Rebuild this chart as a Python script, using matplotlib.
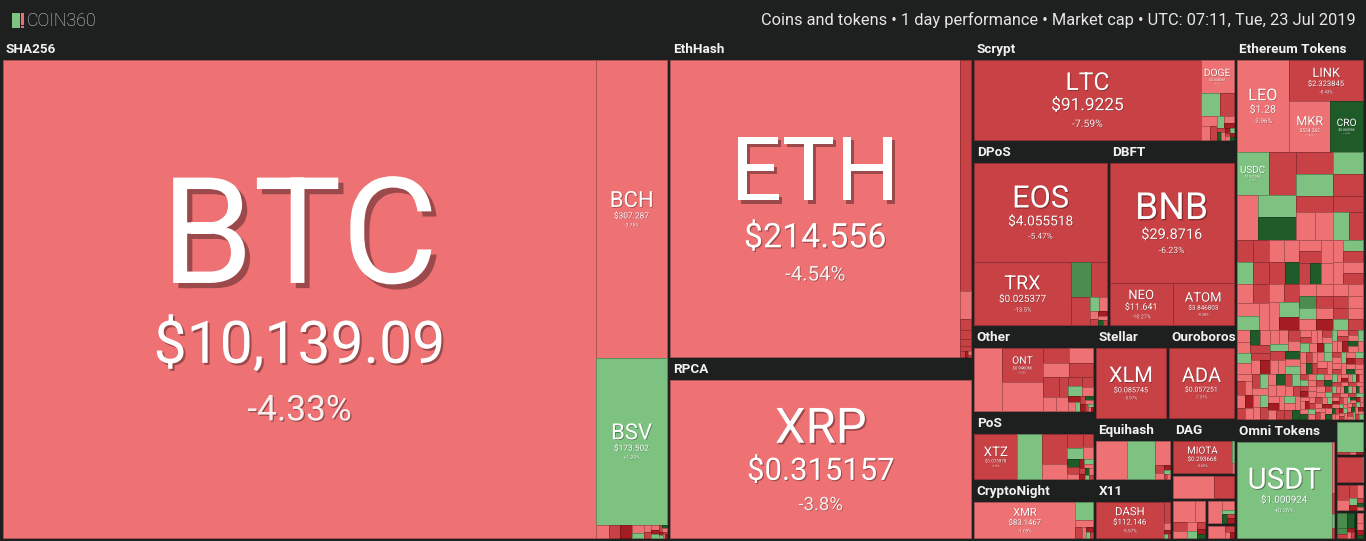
import numpy as np
import matplotlib.pyplot as plt
from matplotlib.patches import Rectangle
from matplotlib.textpath import TextPath
from matplotlib.font_manager import FontProperties
from matplotlib.colors import to_rgb
import matplotlib.patheffects as pe

# Named coins: size is the relative tile weight
coin_symbols = ['BTC', 'BCH', 'BSV', 'ETH', 'XRP', 'LTC', 'DOGE', 'EOS', 'TRX', 'BNB', 'NEO', 'ATOM',
                'ONT', 'XLM', 'ADA', 'XTZ', 'XMR', 'DASH', 'MIOTA', 'LEO', 'LINK', 'MKR', 'CRO', 'USDC', 'USDT']
coin_groups = ['SHA256', 'SHA256', 'SHA256', 'EthHash', 'RPCA', 'Scrypt', 'Scrypt', 'DPoS', 'DPoS', 'DBFT',
               'DBFT', 'DBFT', 'Other', 'Stellar', 'Ouroboros', 'PoS', 'CryptoNight', 'X11', 'DAG',
               'Ethereum Tokens', 'Ethereum Tokens', 'Ethereum Tokens', 'Ethereum Tokens', 'Ethereum Tokens',
               'Omni Tokens']
coin_sizes = [297.4, 22.3, 12.5, 93.4, 54.8, 23.4, 1.42, 15.3, 7.1, 17.4, 3.1, 3.0,
              1.88, 6.75, 6.24, 3.0, 6.05, 4.18, 3.4, 5.21, 3.31, 2.25, 1.80, 1.50, 11.6]
coin_prices = ['$10,139.09', '$307.287', '$173.502', '$214.556', '$0.315157', '$91.9225', '$0.003068',
               '$4.055518', '$0.025377', '$29.8716', '$11.641', '$3.846803', '$0.946066', '$0.085745',
               '$0.057251', '$1.073978', '$83.1467', '$112.146', '$0.293668', '$1.28', '$2.323845',
               '$554.262', '$0.060356', '$1.002398', '$1.000924']
coin_changes = [-4.33, -3.76, 1.29, -4.54, -3.8, -7.59, -3.31, -5.47, -13.5, -6.23, -10.27, -9.28,
                -6.53, -5.97, -7.31, -6.56, -1.69, -5.57, -5.65, -3.96, -8.43, -1.35, 12.4, 0.18, 0.26]

# Unlabelled small coins per group (sizes) and their move class
# r: small loss, R: loss, D: heavy loss, g: small gain, G: gain, K: strong gain
sha256_rest = [0.18, 0.16, 0.16, 0.10, 0.066, 0.057, 0.05, 0.04, 0.035, 0.03, 0.025, 0.02, 0.02, 0.015, 0.012, 0.01, 0.01, 0.008]
sha256_moves = 'rRDrgrRrDgRKrDgRrD'
ethhash_rest = [2.8, 0.33, 0.14, 0.11, 0.08, 0.06, 0.03, 0.02, 0.015, 0.01]
ethhash_moves = 'RrRRRRRDrR'
scrypt_rest = [0.58, 0.42, 0.2, 0.17, 0.12, 0.1, 0.08, 0.06, 0.05, 0.04, 0.04, 0.03, 0.03, 0.02, 0.02, 0.02, 0.01]
scrypt_moves = 'gRrrRgrDRKrDgRrDK'
dpos_rest = [0.84, 0.66, 0.62, 0.15, 0.12, 0.08, 0.06, 0.05, 0.04, 0.03, 0.02]
dpos_moves = 'GRRgrrRDrKR'
other_rest = [2.45, 1.65, 0.55, 0.52, 0.48, 0.48, 0.45, 0.26, 0.26, 0.22, 0.18, 0.18, 0.16, 0.13,
              0.11, 0.09, 0.07, 0.06, 0.05, 0.04, 0.04, 0.03, 0.02, 0.02, 0.01]
other_moves = 'rrRrrRRRrrRgRrDrgRKrDRgrD'
pos_rest = [1.75, 1.15, 0.6, 0.33, 0.26, 0.21, 0.18, 0.15, 0.12, 0.1, 0.08, 0.07, 0.06, 0.05, 0.05, 0.04, 0.04, 0.03, 0.03]
pos_moves = 'gRrRgRrKRrDgrRDKrgR'
cryptonight_rest = [0.53, 0.2, 0.12, 0.08, 0.05, 0.04, 0.03]
cryptonight_moves = 'grRrDgR'
equihash_rest = [1.93, 1.8, 0.58, 0.12, 0.08, 0.05, 0.04, 0.03, 0.02]
equihash_moves = 'rgrRrDgRr'
x11_rest = [0.22, 0.08, 0.04, 0.03, 0.01]
x11_moves = 'RrDgR'
dag_rest = [0.07, 0.03]
dag_moves = 'gr'
minor1_rest, minor1_moves = [1.08, 0.53], 'rR'
minor2_rest, minor2_moves = [0.55, 0.25, 0.15, 0.12, 0.1, 0.08, 0.06, 0.05, 0.04], 'rrRrrgRDK'
minor3_rest, minor3_moves = [0.4, 0.12, 0.06, 0.05, 0.04, 0.04], 'rrgKRD'
minor4_rest, minor4_moves = [0.28, 0.08, 0.04, 0.03], 'rRrD'

eth_mid = [1.30, 1.04, 0.92, 0.91, 0.89, 0.89, 0.72, 0.72, 0.63, 0.57, 0.57, 0.52, 0.47, 0.41]
eth_mid_moves = 'RrgKRgg' + 'RRrrRgR'
eth_small_sizes = [0.40, 0.38, 0.36, 0.34, 0.32, 0.30, 0.28, 0.26, 0.24, 0.22, 0.20, 0.18,
                   0.16, 0.14, 0.12, 0.10, 0.08, 0.07, 0.06, 0.05, 0.04, 0.03, 0.02]
eth_small_counts = [2, 2, 3, 3, 3, 4, 4, 4, 5, 5, 6, 6, 7, 8, 12, 14, 16, 18, 18, 20, 24, 26, 30]
eth_small_moves = ('RRgRrrRKrRrgrrRrgDrRrRKrrgRrrRrGrRgrrDrR'
                   'rrRgrRrrKrRgrRrDrrgRrRrrKrgrRrRgrrDRrrgr'
                   'RrKrrRgrRrDrrRgrrRKrRrgrrRrDgrRrrKRrgrRr'
                   'grRrrDRrgKrrRrgrRrrDgRrKrrRgrrRDrrgRrKrr'
                   'RgrrDrRrKgrRrrgDrRrrKgrRrDrgrRrKrrgRDrrg'
                   'rRKrgrDrRrgrKRrrDgrRrgKrrRDrgrrKRrgrDrRg')
omni_rest, omni_moves = [0.15, 0.06, 0.04, 0.03], 'rRgR'
minor5_rest, minor5_moves = [0.94, 0.04, 0.02, 0.02], 'gRrD'
minor6_rest, minor6_moves = [0.79, 0.02], 'Rr'
minor7_rest, minor7_moves = [0.22, 0.16, 0.12, 0.1, 0.07, 0.05, 0.04, 0.03, 0.02], 'RrRrgDRKr'
minor8_rest, minor8_moves = [0.2, 0.12, 0.08, 0.06, 0.04, 0.03, 0.02], 'GKGRDrR'
minor9_rest, minor9_moves = [0.1, 0.08, 0.05, 0.03], 'rrDK'

move_pct = {'r': -2.5, 'R': -8.0, 'D': -20.0, 'g': 2.0, 'G': 7.0, 'K': 12.0}

coin_group_names = ['SHA256', 'EthHash', 'RPCA', 'Scrypt', 'DPoS', 'DBFT', 'Other', 'PoS', 'CryptoNight',
                    'Stellar', 'Ouroboros', 'Equihash', 'X11', 'DAG', 'minor-1', 'minor-2', 'minor-3', 'minor-4']
token_group_names = ['Ethereum Tokens', 'Omni Tokens', 'minor-5', 'minor-6', 'minor-7', 'minor-8', 'minor-9']

eth_small = [s for s, n in zip(eth_small_sizes, eth_small_counts) for _ in range(n)]
rest = {
    'SHA256': (sha256_rest, sha256_moves), 'EthHash': (ethhash_rest, ethhash_moves),
    'Scrypt': (scrypt_rest, scrypt_moves), 'DPoS': (dpos_rest, dpos_moves), 'Other': (other_rest, other_moves),
    'PoS': (pos_rest, pos_moves), 'CryptoNight': (cryptonight_rest, cryptonight_moves),
    'Equihash': (equihash_rest, equihash_moves), 'X11': (x11_rest, x11_moves), 'DAG': (dag_rest, dag_moves),
    'minor-1': (minor1_rest, minor1_moves), 'minor-2': (minor2_rest, minor2_moves),
    'minor-3': (minor3_rest, minor3_moves), 'minor-4': (minor4_rest, minor4_moves),
    'Ethereum Tokens': (eth_mid + eth_small, eth_mid_moves + eth_small_moves),
    'Omni Tokens': (omni_rest, omni_moves), 'minor-5': (minor5_rest, minor5_moves),
    'minor-6': (minor6_rest, minor6_moves), 'minor-7': (minor7_rest, minor7_moves),
    'minor-8': (minor8_rest, minor8_moves), 'minor-9': (minor9_rest, minor9_moves),
}

BG = '#1e1f1f'
FONT = 'Roboto'
fp = FontProperties(family=FONT)
fp_med = FontProperties(family=FONT, weight='semibold')


def tile_color(ch):
    if ch >= 10:
        return '#1f5b29'
    if ch >= 5:
        return '#4d8c4f'
    if ch >= 0:
        return '#7ec281'
    if ch > -5:
        return '#ee7173'
    if ch > -15:
        return '#c84145'
    return '#a51d22'


def em_width(s, prop=fp):
    return TextPath((0, 0), s, size=1, prop=prop).get_extents().width


def binary(values, x0, y0, x1, y1):
    # same split rule as d3.treemapBinary
    n = len(values)
    sums = np.concatenate([[0.0], np.cumsum(values)])
    rects = [None] * n

    def part(i, j, value, x0, y0, x1, y1):
        if i >= j - 1:
            rects[i] = (x0, y0, x1, y1)
            return
        offset = sums[i]
        target = value / 2 + offset
        k, hi = i + 1, j - 1
        while k < hi:
            mid = (k + hi) // 2
            if sums[mid] < target:
                k = mid + 1
            else:
                hi = mid
        if (target - sums[k - 1]) < (sums[k] - target) and i + 1 < k:
            k -= 1
        left = sums[k] - offset
        right = value - left
        if (x1 - x0) > (y1 - y0):
            xk = (x0 * right + x1 * left) / value
            part(i, k, left, x0, y0, xk, y1)
            part(k, j, right, xk, y0, x1, y1)
        else:
            yk = (y0 * right + y1 * left) / value
            part(i, k, left, x0, y0, x1, yk)
            part(k, j, right, x0, yk, x1, y1)

    part(0, n, sums[-1], x0, y0, x1, y1)
    return rects


def group_cells(g):
    cells = [(s, c, sym, p) for sym, gg, s, p, c in
             zip(coin_symbols, coin_groups, coin_sizes, coin_prices, coin_changes) if gg == g]
    if g in rest:
        vals, moves = rest[g]
        cells += [(v, move_pct[moves[i % len(moves)]], None, None) for i, v in enumerate(vals)]
    return sorted(cells, key=lambda c: -c[0])


W, H = 1366, 541
fig = plt.figure(figsize=(W / 100, H / 100), dpi=100)
fig.patch.set_facecolor(BG)
ax = fig.add_axes([0, 0, 1, 1])
ax.set_xlim(0, W)
ax.set_ylim(H, 0)
ax.axis('off')


def shadow(em, a=0.35):
    d = max(0.5, 0.035 * em) * 0.72
    return [pe.withSimplePatchShadow(offset=(d, -d), shadow_rgbFace='black', alpha=a)]


def coin_label(x0, y0, x1, y1, sym, price, change):
    w, h = x1 - x0, y1 - y0
    name_em = min(0.31 * min(w, h), 0.85 * w / em_width(sym))
    price_em = min(0.48 * w / em_width(price), 0.7 * name_em)
    chg_em = 0.6 * price_em
    chg = ('%+.2f' % change).rstrip('0').rstrip('.') + '%'
    b1 = 0.0
    b2 = b1 + 0.17 * name_em + 0.93 * price_em
    b3 = b2 + 0.42 * price_em + 0.93 * chg_em
    top = b1 - 0.711 * name_em
    shift = (y0 + y1) / 2 - (top + b3) / 2
    for s, em, b, a in [(sym, name_em, b1, 1.0), (price, price_em, b2, 1.0), (chg, chg_em, b3, 0.9)]:
        ax.text((x0 + x1) / 2, b + shift, s, fontsize=em * 0.72, family=FONT, color='white', alpha=a,
                ha='center', va='baseline', path_effects=shadow(em))


def draw_group(name, x0, y0, x1, y1):
    x0, y0, x1, y1 = x0 + 1.5, y0 + 1.5, x1 - 1.5, y1 - 1.5
    head = 20 if (y1 - y0) >= 45 else 0
    if head:
        label = name
        if em_width(label, fp_med) * 13 > (x1 - x0) - 3:
            while em_width(label + '...', fp_med) * 13 > (x1 - x0) - 3:
                label = label[:-1]
            label += '...'
        ax.text(x0 + 2.5, y0 + 9.5, label, fontsize=9.7, fontweight='semibold', family=FONT,
                color='#f2f2f2', ha='left', va='center')
    cells = group_cells(name)
    rects = binary([c[0] for c in cells], x0, y0 + head, x1, y1)
    for (s, ch, sym, price), (a0, b0, a1, b1) in zip(cells, rects):
        fc = tile_color(ch)
        ec = tuple(np.array(to_rgb(fc)) * 0.72)
        ax.add_patch(Rectangle((a0, b0), a1 - a0, b1 - b0, facecolor=fc, edgecolor=ec, linewidth=0.6))
        if sym and min(a1 - a0, b1 - b0) >= 12:
            coin_label(a0, b0, a1, b1, sym, price, ch)


coin_tot = [sum(c[0] for c in group_cells(g)) for g in coin_group_names]
token_tot = [sum(c[0] for c in group_cells(g)) for g in token_group_names]
blocks = binary([sum(coin_tot), sum(token_tot)], 1.5, 38.5, 1364.5, 539.5)
for names, tots, r in [(coin_group_names, coin_tot, blocks[0]), (token_group_names, token_tot, blocks[1])]:
    order = sorted(range(len(names)), key=lambda i: -tots[i])
    grects = binary([tots[i] for i in order], *r)
    for i, gr in zip(order, grects):
        draw_group(names[i], *gr)

# header
ax.add_patch(Rectangle((12, 13), 7.5, 15, facecolor='#7ec281', edgecolor='none'))
ax.add_patch(Rectangle((21, 13), 3, 11.5, facecolor='#ee6f70', edgecolor='none'))
ax.add_patch(Rectangle((21, 25.5), 3, 2.5, facecolor='#ee6f70', edgecolor='none'))
ax.text(26.5, 21, 'COIN360', fontsize=12.8, family=FONT, fontweight='light', color='#d6d6d6',
        ha='left', va='center')
ax.text(1356, 19.5, 'Coins and tokens \u2022 1 day performance \u2022 Market cap \u2022 UTC: 07:11, Tue, 23 Jul 2019',
        fontsize=11.8, family=FONT, color='#e6e6e6', ha='right', va='center')

fig.savefig('out.png', dpi=100, facecolor=BG)
